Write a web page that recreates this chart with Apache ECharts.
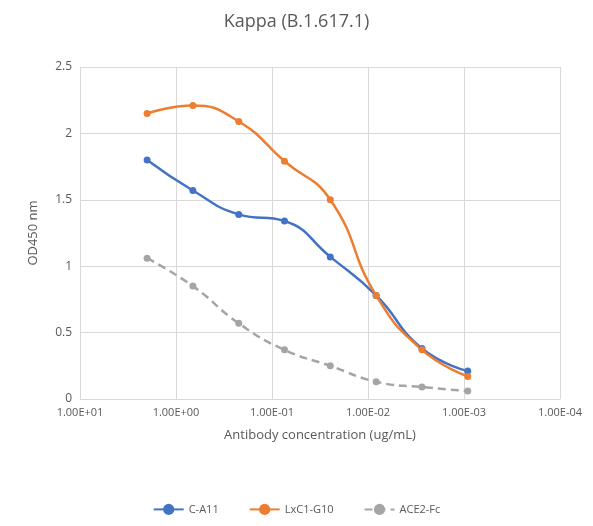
<!DOCTYPE html>
<html>
<head>
<meta charset="utf-8">
<script src="https://cdn.jsdelivr.net/npm/echarts@6/dist/echarts.min.js"></script>
<style>html,body{margin:0;padding:0;background:#fff}#chart{width:593px;height:526px}</style>
</head>
<body>
<div id="chart"></div>
<script>
// 3-fold dilution series (ug/mL)
var concentrations = [2, 0.667, 0.222, 0.0741, 0.0247, 0.00823, 0.00274, 0.000914];
var cA11 = [1.80, 1.57, 1.39, 1.34, 1.07, 0.78, 0.38, 0.21];
var lxc1G10 = [2.15, 2.21, 2.09, 1.79, 1.50, 0.78, 0.37, 0.17];
var ace2Fc = [1.06, 0.85, 0.57, 0.37, 0.25, 0.13, 0.09, 0.06];

function pairs(vals) {
    return concentrations.map(function (c, i) { return [c, vals[i]]; });
}
// 1.00E+01 style labels
function sci(v) {
    var e = Math.round(Math.log10(v));
    var m = (v / Math.pow(10, e)).toFixed(2);
    var s = e < 0 ? '-' : '+';
    var a = Math.abs(e);
    return m + 'E' + s + (a < 10 ? '0' + a : a);
}

var font = 'Open Sans, Liberation Sans, sans-serif';
var myChart = echarts.init(document.getElementById('chart'));
var option = {
    backgroundColor: '#fff',
    title: {
        text: 'Kappa (B.1.617.1)',
        left: 'center',
        top: 8,
        textStyle: { fontSize: 18, fontWeight: 'normal', color: '#595959', fontFamily: font }
    },
    legend: {
        bottom: 6,
        itemGap: 30,
        itemWidth: 30,
        textStyle: { fontSize: 11, color: '#595959', fontFamily: font },
        data: ['C-A11', 'LxC1-G10', 'ACE2-Fc']
    },
    grid: { left: 80, right: 33, top: 67, bottom: 127 },
    xAxis: {
        type: 'log',
        logBase: 10,
        min: 0.0001,
        max: 10,
        inverse: true,
        name: 'Antibody concentration (ug/mL)',
        nameLocation: 'middle',
        nameGap: 30,
        nameTextStyle: { fontSize: 13, color: '#595959', fontFamily: font },
        axisLine: { lineStyle: { color: '#d9d9d9' } },
        axisTick: { show: false },
        axisLabel: { formatter: sci, fontSize: 11, color: '#595959', fontFamily: font },
        splitLine: { show: true, lineStyle: { color: '#d9d9d9' } }
    },
    yAxis: {
        type: 'value',
        min: 0,
        max: 2.5,
        interval: 0.5,
        name: 'OD450 nm',
        nameLocation: 'middle',
        nameGap: 40,
        nameTextStyle: { fontSize: 13, color: '#595959', fontFamily: font },
        axisLine: { show: false },
        axisTick: { show: false },
        axisLabel: { fontSize: 12, color: '#595959', fontFamily: font },
        splitLine: { lineStyle: { color: '#d9d9d9' } }
    },
    series: [
        {
            name: 'C-A11', type: 'line', smooth: true, symbol: 'circle', symbolSize: 7,
            itemStyle: { color: '#4472c4' }, lineStyle: { width: 2.5 },
            data: pairs(cA11)
        },
        {
            name: 'LxC1-G10', type: 'line', smooth: true, symbol: 'circle', symbolSize: 7,
            itemStyle: { color: '#ed7d31' }, lineStyle: { width: 2.5 },
            data: pairs(lxc1G10)
        },
        {
            name: 'ACE2-Fc', type: 'line', smooth: true, symbol: 'circle', symbolSize: 7,
            itemStyle: { color: '#a5a5a5' }, lineStyle: { width: 2.5, type: [8, 5] },
            data: pairs(ace2Fc)
        }
    ]
};
myChart.setOption(option);
</script>
</body>
</html>
